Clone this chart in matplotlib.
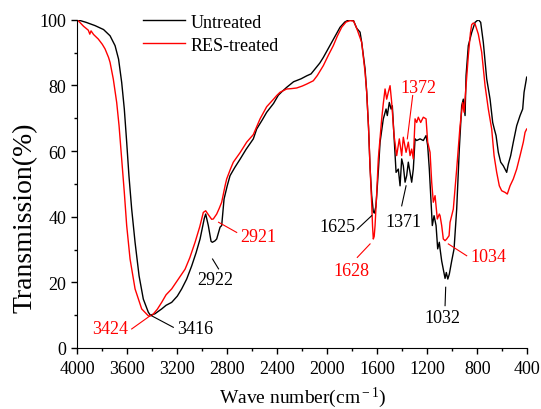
import numpy as np
import matplotlib
matplotlib.use('Agg')
import matplotlib.pyplot as plt
from matplotlib.ticker import MultipleLocator

plt.rcParams['font.family'] = ['Liberation Serif', 'DejaVu Serif']
plt.rcParams['mathtext.fontset'] = 'custom'
plt.rcParams['mathtext.rm'] = 'Liberation Serif'
plt.rcParams['mathtext.it'] = 'Liberation Serif:italic'

# Untreated spectrum (wave number, transmission %)
wn_untreated = [4000, 3930, 3858, 3790, 3738, 3698, 3670, 3645, 3624, 3605, 3587, 3565,
                3538, 3506, 3472, 3432, 3416, 3380, 3325, 3290, 3245, 3200, 3165, 3125,
                3085, 3050, 3018, 2984, 2973, 2952, 2930, 2920, 2900, 2885, 2858, 2845,
                2826, 2800, 2778, 2740, 2698, 2650, 2592, 2565, 2520, 2485, 2430, 2392,
                2360, 2325, 2270, 2210, 2165, 2130, 2098, 2060, 2032, 1965, 1898, 1860,
                1830, 1790, 1765, 1738, 1725, 1698, 1685, 1670, 1658, 1645, 1632, 1624,
                1612, 1605, 1590, 1578, 1552, 1530, 1520, 1504, 1490, 1480, 1464, 1450,
                1432, 1418, 1405, 1392, 1378, 1365, 1352, 1338, 1325, 1312, 1298, 1285,
                1258, 1232, 1210, 1197, 1184, 1170, 1160, 1146, 1130, 1117, 1104, 1098,
                1085, 1070, 1058, 1048, 1036, 1024, 1005, 986, 965, 944, 925, 912, 898,
                890, 872, 845, 818, 792, 773, 752, 725, 698, 677, 664, 650, 632, 613,
                592, 565, 552, 533, 512, 485, 458, 437, 426, 405]
t_untreated = [100, 99.2, 98.2, 97.0, 95.1, 92.1, 88.0, 80.9, 72.8, 62.7, 52.5, 42.3,
               32.2, 22.0, 14.9, 10.9, 10.0, 10.4, 11.9, 13.0, 13.9, 15.8, 18.0, 21.0,
               25.0, 29.0, 33.2, 39.5, 40.8, 37.3, 32.5, 32.2, 32.6, 33.2, 36.8, 37.3,
               45.4, 49.5, 52.5, 55.0, 57.5, 60.5, 63.7, 66.7, 69.5, 71.8, 74.5, 77.0,
               78.2, 79.4, 81.1, 82.0, 82.9, 83.5, 85.0, 86.8, 88.5, 93.1, 97.7, 99.3,
               99.9, 99.7, 97.4, 96.2, 93.1, 85.0, 78.0, 67.0, 55.0, 46.4, 41.5, 41.1,
               43.0, 46.4, 55.0, 62.7, 69.8, 72.8, 70.8, 74.8, 72.8, 73.8, 62.7, 53.5,
               54.5, 49.4, 57.6, 55.5, 50.5, 52.5, 56.6, 53.5, 50.5, 54.5, 63.7, 63.2,
               63.7, 63.2, 64.7, 61.6, 54.5, 44.4, 37.3, 40.3, 37.3, 30.2, 32.2, 30.2,
               26.5, 23.5, 21.2, 23.0, 21.0, 22.5, 26.5, 30.2, 42.3, 60.6, 73.8, 75.8, 70.8,
               83.0, 92.1, 96.1, 99.2, 100.0, 99.2, 93.1, 82.0, 75.8, 68.7, 66.7, 64.7, 59.6, 56.6,
               55.5, 53.5, 56.0, 58.6, 62.7, 67.7, 70.8, 72.8, 77.9, 82.5]

# RES-treated spectrum
wn_treated = [4000, 3950, 3912, 3900, 3890, 3870, 3832, 3800, 3778, 3750, 3738, 3712,
              3685, 3666, 3645, 3624, 3605, 3578, 3538, 3485, 3432, 3424, 3400, 3360,
              3325, 3290, 3245, 3200, 3138, 3100, 3058, 3020, 2992, 2973, 2950, 2925,
              2912, 2885, 2865, 2845, 2818, 2805, 2775, 2752, 2698, 2645, 2592, 2538,
              2485, 2430, 2405, 2378, 2325, 2290, 2245, 2200, 2165, 2112, 2080, 2032,
              1990, 1952, 1920, 1885, 1850, 1818, 1790, 1765, 1725, 1698, 1685, 1670,
              1658, 1645, 1638, 1632, 1625, 1618, 1605, 1592, 1578, 1565, 1552, 1538,
              1525, 1512, 1498, 1485, 1466, 1445, 1424, 1405, 1392, 1370, 1352, 1338,
              1325, 1312, 1298, 1285, 1272, 1253, 1232, 1210, 1197, 1178, 1165, 1152,
              1138, 1120, 1104, 1098, 1085, 1072, 1058, 1045, 1026, 1018, 992, 965,
              938, 917, 906, 890, 872, 855, 845, 832, 818, 792, 765, 738, 712, 685,
              666, 645, 624, 605, 578, 560, 538, 512, 485, 458, 432, 418, 405]
t_treated = [100, 98.0, 96.8, 95.6, 96.6, 95.5, 94.1, 92.5, 91.1, 88.5, 87.0, 81.9,
             74.8, 67.7, 57.6, 47.4, 37.3, 27.1, 18.0, 11.9, 9.8, 9.7, 10.0, 11.8,
             13.9, 16.2, 18.0, 20.5, 24.0, 27.5, 32.2, 37.0, 41.3, 41.8, 40.5, 39.2,
             39.3, 40.8, 42.5, 44.4, 49.4, 51.5, 54.5, 56.6, 59.5, 62.7, 65.0, 69.8,
             73.5, 75.8, 76.9, 77.9, 78.9, 79.0, 79.2, 79.8, 80.4, 81.4, 83.0, 86.0,
             89.3, 92.1, 95.0, 97.7, 99.3, 99.7, 99.6, 97.4, 93.1, 84.0, 78.0, 67.0,
             55.0, 44.0, 37.0, 33.2, 34.0, 37.3, 47.0, 57.6, 64.0, 69.8, 74.5, 78.9,
             75.8, 77.9, 79.9, 74.8, 64.7, 58.6, 63.7, 58.6, 64.2, 59.6, 62.7, 58.6,
             60.6, 57.6, 69.8, 68.7, 70.3, 68.7, 70.3, 69.8, 62.7, 59.6, 50.5, 44.4,
             46.4, 39.3, 40.8, 40.3, 37.3, 33.2, 32.7, 33.2, 34.2, 38.3, 42.3, 54.5,
             67.7, 74.8, 71.8, 79.9, 89.0, 96.0, 98.5, 99.0, 98.7, 95.6, 90.1, 79.9, 72.8, 66.7,
             58.6, 53.5, 49.4, 47.9, 47.4, 46.9, 49.4, 51.5, 54.5, 58.6, 62.7, 65.7, 66.7]

# peak labels: text, colour, text position, pointer start, pointer end
peak_labels = ['3424', '3416', '2922', '2921', '1625', '1628', '1371', '1372', '1034', '1032']
peak_colors = ['red', 'black', 'black', 'red', 'black', 'red', 'black', 'red', 'red', 'black']
peak_text_xy = [(3738, 5.8), (3058, 5.8), (2898, 21.0), (2554, 34.1), (1922, 36.9),
                (1810, 23.5), (1394, 38.4), (1274, 79.5), (714, 28.0), (1082, 9.4)]
peak_line_from = [(3565, 5.8), (3405, 9.8), (2918, 27.1), (2870, 38.3), (1760, 36.2),
                  (1760, 27.6), (1405, 43.3), (1360, 63.7), (1032, 31.7), (1053, 18.5)]
peak_line_to = [(3418, 9.8), (3232, 6.3), (2870, 24.1), (2725, 35.2), (1645, 40.3),
                (1658, 31.7), (1370, 49.4), (1317, 76.9), (885, 28.1), (1058, 12.9)]

fig = plt.figure(figsize=(5.41, 4.10), dpi=100)
ax = fig.add_axes([0.1429, 0.1488, 0.8318, 0.8007])

ax.plot(wn_untreated, t_untreated, color='black', lw=1.0, label='Untreated')
ax.plot(wn_treated, t_treated, color='red', lw=1.0, label='RES-treated')

for lab, col, txy, p0, p1 in zip(peak_labels, peak_colors, peak_text_xy,
                                  peak_line_from, peak_line_to):
    ax.plot([p0[0], p1[0]], [p0[1], p1[1]], color=col, lw=0.8)
    ax.text(txy[0], txy[1], lab, color=col, fontsize=13, ha='center', va='center')

ax.set_xlim(4000, 400)
ax.set_ylim(0, 100)
ax.xaxis.set_major_locator(MultipleLocator(400))
ax.xaxis.set_minor_locator(MultipleLocator(200))
ax.yaxis.set_major_locator(MultipleLocator(20))
ax.yaxis.set_minor_locator(MultipleLocator(10))
ax.tick_params(which='major', direction='out', length=4.5, width=1, labelsize=13)
ax.tick_params(which='minor', direction='out', length=2.5, width=1)
ax.tick_params(axis='x', pad=4)
ax.spines['top'].set_visible(False)
ax.spines['right'].set_visible(False)

ax.set_xlabel('Wave number(cm$^{\\rm -1}$)', fontsize=14, labelpad=6)
ax.set_ylabel('Transmission(%)', fontsize=20)
ax.yaxis.set_label_coords(-0.088, 0.40)

ax.legend(loc='upper left', bbox_to_anchor=(0.146, 1.018), frameon=False,
          fontsize=13, handlelength=2.3, handletextpad=0.35, labelspacing=0.33,
          borderpad=0, borderaxespad=0)

plt.savefig('out.png', dpi=100)
